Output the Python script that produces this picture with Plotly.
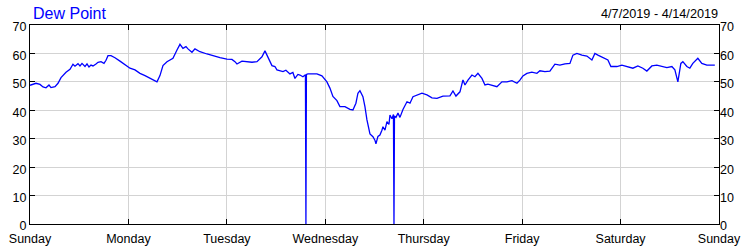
import plotly.graph_objects as go

# hours since Sunday 2019-04-07 00:00
hours = [0.0, 1.46, 2.44, 3.17, 3.9, 4.63, 5.12, 6.1, 6.83, 7.56, 8.78, 9.75, 10.48, 10.97, 11.7,
         12.19, 12.68, 13.41, 13.9, 14.38, 14.87, 15.36, 16.09, 16.58, 17.31, 18.04, 18.53, 19.02,
         19.75, 20.72, 21.94, 23.16, 24.38, 25.6, 26.82, 28.04, 29.26, 29.99, 30.96, 31.69, 32.42,
         33.4, 34.13, 34.86, 35.84, 36.57, 37.3, 38.03, 38.52, 39.49, 40.22, 41.44, 43.15, 44.61,
         46.32, 48.02, 49.24, 49.97, 50.46, 51.68, 52.9, 54.12, 55.34, 56.56, 57.29, 58.02, 58.99,
         59.72, 60.21, 61.68, 62.4, 63.38, 64.1, 64.6, 65.33, 65.82, 66.55, 67.16, 67.28, 67.4,
         67.77, 69.96, 71.18, 72.4, 73.13, 73.86, 74.84, 75.57, 76.79, 78.01, 78.74, 79.47, 79.96,
         80.45, 81.18, 81.67, 82.16, 82.89, 83.62, 84.1, 84.35, 84.84, 85.32, 85.81, 86.06, 86.55,
         87.04, 87.52, 87.77, 88.26, 88.62, 88.75, 88.87, 89.24, 89.72, 90.21, 90.94, 91.92, 92.65,
         93.38, 94.6, 95.57, 96.79, 98.01, 99.23, 100.69, 102.4, 103.13, 103.86, 104.84, 105.57,
         106.06, 106.79, 107.76, 108.49, 109.22, 110.2, 110.93, 111.66, 112.63, 113.85, 115.07,
         116.29, 117.51, 118.73, 119.46, 120.19, 121.16, 122.38, 123.6, 124.33, 125.55, 126.77,
         127.99, 129.21, 130.43, 131.65, 132.38, 133.35, 134.57, 135.79, 137.01, 137.74, 138.47,
         139.69, 140.91, 141.64, 143.1, 144.32, 145.78, 147.0, 148.22, 149.44, 150.41, 151.63,
         152.85, 154.07, 155.29, 156.51, 157.24, 157.97, 158.7, 159.19, 160.16, 160.89, 161.62,
         162.84, 163.81, 165.03, 166.98]

dew_point = [48.8, 49.5, 49.1, 48.2, 47.9, 48.9, 48.0, 48.3, 49.5, 51.5, 53.4, 54.4, 56.2, 55.5, 56.4,
             55.6, 56.5, 55.4, 56.3, 55.2, 55.9, 55.6, 56.3, 56.9, 57.1, 56.5, 57.6, 59.2,
             59.2, 58.5, 57.3, 56.2, 54.8, 54.2, 53.0, 52.2, 51.2, 50.6, 50.0, 52.2, 55.7,
             57.1, 57.8, 58.3, 61.2, 63.2, 61.8, 62.4, 61.6, 60.4, 61.6, 60.6, 59.8, 59.1,
             58.5, 58.0, 57.9, 57.1, 56.3, 57.3, 57.1, 56.9, 57.1, 58.8, 60.9, 58.8, 55.7,
             55.4, 54.2, 53.6, 54.1, 52.8, 53.3, 51.2, 52.6, 52.4, 51.8, 52.5, 0.0, 52.6,
             52.8, 52.8, 52.1, 50.0, 47.8, 44.9, 43.4, 41.3, 41.3, 40.3, 40.1, 42.5, 46.0,
             46.9, 44.8, 41.3, 36.6, 31.7, 30.7, 29.5, 28.2, 30.8, 31.3, 33.0, 34.2, 33.0,
             36.0, 35.0, 38.3, 37.0, 38.5, 0.0, 38.0, 37.5, 39.0, 37.5, 40.3, 43.0, 42.5,
             44.8, 45.6, 46.0, 45.4, 44.4, 44.2, 45.0, 45.1, 46.8, 45.0, 46.5, 50.7,
             48.9, 50.6, 52.4, 51.8, 53.0, 51.2, 48.9, 49.2, 48.9, 48.3, 50.0,
             50.0, 50.4, 49.5, 50.6, 52.1, 53.0, 53.4, 53.0, 53.9, 53.6, 53.8,
             56.2, 55.9, 56.3, 56.5, 59.4, 60.0, 59.4, 59.1, 57.7, 60.0, 59.4,
             58.6, 57.7, 55.4, 55.4, 55.9, 55.2, 54.8, 55.6, 54.8, 53.8, 55.6,
             55.9, 55.4, 55.0, 55.4, 54.2, 50.0, 56.5, 57.1, 55.4, 54.8, 56.5,
             58.3, 56.5, 55.9, 55.9]

day_ticks = [0, 24, 48, 72, 96, 120, 144, 168]
day_labels = ["Sunday", "Monday", "Tuesday", "Wednesday", "Thursday", "Friday", "Saturday", "Sunday"]
y_ticks = [0, 10, 20, 30, 40, 50, 60, 70]

title_text = "Dew Point"
range_text = "4/7/2019 - 4/14/2019"

font_family = "Liberation Sans, Arial, sans-serif"

fig = go.Figure()
fig.add_trace(go.Scatter(x=hours, y=dew_point, mode="lines",
                         line=dict(color="#0000ff", width=1.3), showlegend=False,
                         hoverinfo="skip"))
# invisible trace for right axis
fig.add_trace(go.Scatter(x=[hours[0]], y=[dew_point[0]], yaxis="y2", mode="markers",
                         marker=dict(opacity=0), showlegend=False, hoverinfo="skip"))

axis_common = dict(showline=True, linecolor="black", linewidth=1, ticks="inside",
                   ticklen=5, tickcolor="black", gridcolor="#d3d3d3", gridwidth=1,
                   zeroline=False, automargin=False)

fig.update_layout(
    width=750, height=250,
    margin=dict(l=30, r=31, t=25, b=26),
    paper_bgcolor="white", plot_bgcolor="white",
    font=dict(family=font_family, color="black"),
    xaxis=dict(range=[0, 168], tickmode="array", tickvals=day_ticks, ticktext=day_labels,
               mirror="ticks", ticklabelstandoff=3,
               tickfont=dict(size=12.5, color="black", family=font_family), **axis_common),
    yaxis=dict(range=[0, 70], tickmode="array", tickvals=y_ticks, mirror="ticks",
               ticklabelshift=2,
               tickfont=dict(size=12.5, color="black", family=font_family), **axis_common),
    yaxis2=dict(range=[0, 70], tickmode="array", tickvals=y_ticks, overlaying="y", side="right",
                showgrid=False, showline=False, ticks="", zeroline=False, automargin=False,
                ticklabelshift=2,
                tickfont=dict(size=12.5, color="black", family=font_family)),
    annotations=[
        dict(text=title_text, xref="paper", yref="paper", x=0, y=1, xanchor="left",
             yanchor="bottom", xshift=1, yshift=1, showarrow=False,
             font=dict(size=16, color="#0000ff", family=font_family)),
        dict(text=range_text, xref="paper", yref="paper", x=1, y=1, xanchor="right",
             yanchor="bottom", xshift=1, yshift=2, showarrow=False,
             font=dict(size=12.7, color="black", family=font_family)),
    ],
)

fig.write_html("out.html")
